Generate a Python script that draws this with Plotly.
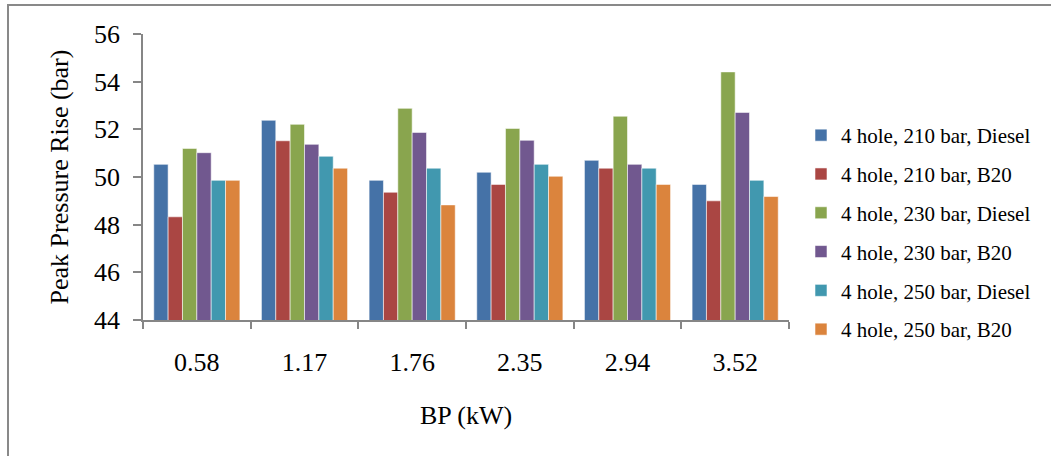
import plotly.graph_objects as go

categories = ["0.58", "1.17", "1.76", "2.35", "2.94", "3.52"]
series_names = [
    "4 hole, 210 bar, Diesel",
    "4 hole, 210 bar, B20",
    "4 hole, 230 bar, Diesel",
    "4 hole, 230 bar, B20",
    "4 hole, 250 bar, Diesel",
    "4 hole, 250 bar, B20",
]
s210_diesel = [50.53, 52.38, 49.86, 50.20, 50.70, 49.69]
s210_b20 = [48.33, 51.52, 49.36, 49.69, 50.37, 49.00]
s230_diesel = [51.20, 52.21, 52.88, 52.04, 52.55, 54.41]
s230_b20 = [51.02, 51.37, 51.87, 51.54, 50.53, 52.71]
s250_diesel = [49.86, 50.87, 50.37, 50.53, 50.37, 49.86]
s250_b20 = [49.86, 50.37, 48.83, 50.03, 49.69, 49.18]
y_ticks = [44, 46, 48, 50, 52, 54, 56]

colors = ["#4572A7", "#AA4643", "#89A54E", "#71588F", "#4198AF", "#DB843D"]
all_series = [s210_diesel, s210_b20, s230_diesel, s230_b20, s250_diesel, s250_b20]

FONT = "Liberation Serif, Times New Roman, DejaVu Serif, serif"
W, H = 1051, 456
L, R, T = 143, 1051 - 789, 34
B = H - 320
pw, ph = W - L - R, H - T - B

fig = go.Figure()
for i, (name, vals) in enumerate(zip(series_names, all_series)):
    fig.add_trace(go.Bar(
        x=categories, y=vals, name=name,
        marker=dict(color=colors[i], line=dict(color="rgba(255,255,255,0.55)", width=1)),
        legendgroup=f"g{i}",
    ))

def sx(px):  # screen pixel -> paper x
    return (px - L) / pw

def sy(py):  # screen pixel -> paper y
    return (H - B - py) / ph

fig.update_layout(
    width=W, height=H,
    margin=dict(l=L, r=R, t=T, b=B, autoexpand=False),
    paper_bgcolor="white", plot_bgcolor="white",
    barmode="group", bargap=0.2, bargroupgap=0,
    font=dict(family=FONT, color="black", size=26),
    showlegend=True,
    legend=dict(
        x=sx(801), xanchor="left",
        y=sy(115), yanchor="top",
        font=dict(family=FONT, size=21, color="black"),
        tracegroupgap=8.5, traceorder="grouped",
        bgcolor="rgba(0,0,0,0)",
    ),
    xaxis=dict(
        automargin=False,
        showline=True, linecolor="#868686", linewidth=1.5,
        ticks="outside", tickson="boundaries", ticklen=7, tickcolor="#868686", tickwidth=1.5,
        tickfont=dict(size=26), ticklabelstandoff=18,
        title=dict(text="BP (kW)", font=dict(size=26), standoff=30),
        showgrid=False,
    ),
    yaxis=dict(
        automargin=False,
        range=[44, 56], tickvals=y_ticks,
        showline=True, linecolor="#868686", linewidth=1.5,
        ticks="outside", ticklen=8, tickcolor="#868686", tickwidth=1.5,
        tickfont=dict(size=26), ticklabelstandoff=8,
        title=dict(text="Peak Pressure Rise (bar)", font=dict(size=26), standoff=18),
        showgrid=False, zeroline=False,
    ),
    shapes=[dict(
        type="rect", xref="paper", yref="paper",
        x0=sx(8), x1=sx(1070),
        y0=sy(480), y1=sy(5),
        line=dict(color="#898989", width=2), fillcolor="rgba(0,0,0,0)", layer="below",
    )],
)

fig.write_html(
    "out.html",
    config={"displayModeBar": False},
    post_script="document.body.style.margin='0';document.body.style.overflow='hidden';",
)
